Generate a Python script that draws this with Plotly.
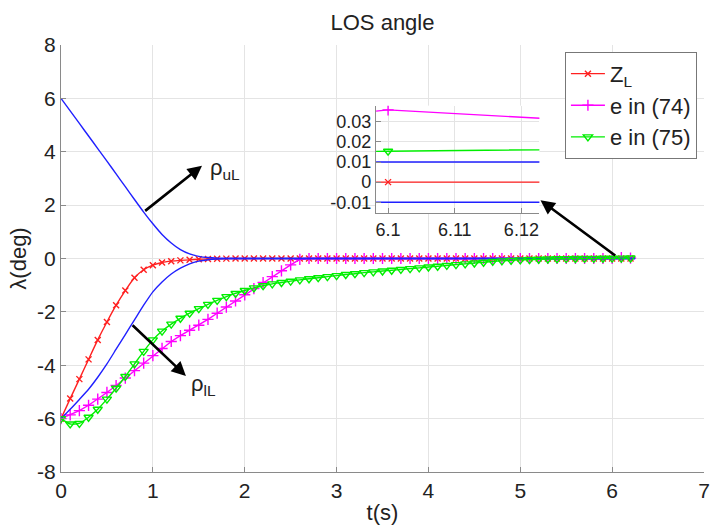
import numpy as np
import plotly.graph_objects as go

# sample times (s) of the marked series
t = np.round(np.arange(0, 6.2001, 0.1), 1).tolist()

z_l = [-6.0, -5.25, -4.52, -3.78, -3.05, -2.38, -1.75, -1.2, -0.72, -0.42,
       -0.25, -0.15, -0.1, -0.07, -0.05, -0.03, -0.02, -0.01, -0.005, 0.0,
       0.0, 0.0, 0.0, 0.0, 0.0, 0.0, 0.0, 0.0, 0.0, 0.0,
       0.0, 0.0, 0.0, 0.0, 0.0, 0.0, 0.0, 0.0, 0.0, 0.0,
       0.0, 0.0, 0.0, 0.0, 0.0, 0.0, 0.0, 0.0, 0.0, 0.0,
       0.0, 0.0, 0.0, 0.0, 0.0, 0.0, 0.0, 0.0, 0.0, 0.0,
       0.0, 0.0, 0.0]

e74 = [-6.0, -5.86, -5.7, -5.5, -5.27, -5.02, -4.76, -4.48, -4.2, -3.92,
       -3.64, -3.37, -3.11, -2.89, -2.69, -2.5, -2.28, -2.05, -1.82, -1.59,
       -1.36, -1.13, -0.9, -0.68, -0.46, -0.24, -0.03, 0.0, 0.0, 0.0,
       0.0, 0.0, 0.0, 0.0, 0.0, 0.0, 0.0, 0.0, 0.0, 0.0,
       0.0, 0.0, 0.0, 0.0, 0.0, 0.0, 0.0, 0.0, 0.0, 0.0,
       0.0, 0.0, 0.0, 0.0, 0.0, 0.0, 0.0, 0.0, 0.0, 0.0,
       0.0, 0.036, 0.0175]

e75 = [-6.0, -6.2, -6.18, -5.95, -5.65, -5.27, -4.86, -4.42, -3.95, -3.48,
       -3.05, -2.72, -2.46, -2.24, -2.05, -1.88, -1.72, -1.57, -1.43, -1.31,
       -1.2, -1.1, -1.02, -0.95, -0.9, -0.85, -0.8, -0.76, -0.72, -0.68,
       -0.64, -0.6, -0.57, -0.53, -0.5, -0.47, -0.44, -0.41, -0.38, -0.35,
       -0.32, -0.29, -0.26, -0.23, -0.2, -0.17, -0.14, -0.11, -0.09, -0.07,
       -0.05, -0.04, -0.03, -0.02, -0.01, -0.005, 0.0, 0.003, 0.006, 0.009,
       0.012, 0.0154, 0.0187]

# performance bounds
t_rho = [0.0, 0.1, 0.2, 0.3, 0.4, 0.5, 0.6, 0.7, 0.8, 0.9, 1.0, 1.1, 1.2,
         1.3, 1.4, 1.5, 1.6, 1.7, 1.8, 6.25]
rho_u = [6.0, 5.53, 5.06, 4.59, 4.12, 3.65, 3.17, 2.69, 2.21, 1.74, 1.3, 0.9,
         0.58, 0.33, 0.17, 0.08, 0.035, 0.015, 0.01, 0.01]
rho_l = [-6.0, -5.65, -5.28, -4.9, -4.45, -3.95, -3.4, -2.85, -2.3, -1.75,
         -1.25, -0.88, -0.58, -0.36, -0.2, -0.1, -0.045, -0.02, -0.01, -0.01]

# tick positions and labels
x_ticks = [0, 1, 2, 3, 4, 5, 6, 7]
y_ticks = [-8, -6, -4, -2, 0, 2, 4, 6, 8]
y_ticktext = ["-8", "-6", "-4", "-2", "0", "2", "4", "6", "8"]
x2_ticks = [6.1, 6.11, 6.12]
x2_ticktext = ["6.1", "6.11", "6.12"]
y2_ticks = [-0.01, 0, 0.01, 0.02, 0.03]
y2_ticktext = ["-0.01", "0", "0.01", "0.02", "0.03"]

RED = "#ff2020"
MAG = "#ff00ff"
GRN = "#00ee00"
BLU = "#2020ff"
GRID = "#e4e4e4"
AXC = "#8a8a8a"
TXT = "#222222"
FONT = "Liberation Sans, Arial, sans-serif"

fig = go.Figure()


def add_all(xa, ya, main):
    shape = "spline" if main else "linear"
    fig.add_trace(go.Scatter(x=t, y=z_l, mode="lines+markers", xaxis=xa, yaxis=ya,
                             name="Z<sub>L</sub>", showlegend=main, legendrank=1,
                             line=dict(color=RED, width=1.4, shape=shape, smoothing=0.6),
                             marker=dict(symbol="x-thin", size=6,
                                         line=dict(color=RED, width=1.4))))
    fig.add_trace(go.Scatter(x=t, y=e74, mode="lines+markers", xaxis=xa, yaxis=ya,
                             name="e in (74)", showlegend=main, legendrank=2,
                             line=dict(color=MAG, width=1.4),
                             marker=dict(symbol="cross-thin", size=8,
                                         line=dict(color=MAG, width=1.4))))
    fig.add_trace(go.Scatter(x=t_rho, y=rho_u, mode="lines", xaxis=xa, yaxis=ya,
                             line=dict(color=BLU, width=1.4, shape=shape, smoothing=0.6),
                             showlegend=False, hoverinfo="skip"))
    fig.add_trace(go.Scatter(x=t_rho, y=rho_l, mode="lines", xaxis=xa, yaxis=ya,
                             line=dict(color=BLU, width=1.4, shape=shape, smoothing=0.6),
                             showlegend=False, hoverinfo="skip"))
    fig.add_trace(go.Scatter(x=t, y=e75, mode="lines+markers", xaxis=xa, yaxis=ya,
                             name="e in (75)", showlegend=main, legendrank=3,
                             line=dict(color=GRN, width=1.4, shape=shape, smoothing=0.6),
                             marker=dict(symbol="triangle-down-open", size=8,
                                         line=dict(color=GRN, width=1.4))))


add_all("x", "y", True)
add_all("x2", "y2", False)


def axis_style(size):
    return dict(showline=True, linecolor=AXC, linewidth=1.3, ticks="inside",
                ticklen=5, tickcolor=AXC, showgrid=True, gridcolor=GRID,
                gridwidth=1, zeroline=False, mirror=False,
                tickfont=dict(family=FONT, size=size, color=TXT))


fig.update_layout(
    width=716, height=527,
    margin=dict(l=61, r=6, t=45, b=53),
    paper_bgcolor="white", plot_bgcolor="white",
    font=dict(family=FONT, color=TXT),
    title=dict(text="LOS angle", x=0.5, xref="paper", y=1 - 22 / 527,
               yref="container", yanchor="middle",
               font=dict(family=FONT, size=22, color=TXT)),
    xaxis=dict(range=[0, 7], tickvals=x_ticks, **axis_style(21),
               title=dict(text="t(s)", standoff=3,
                          font=dict(family=FONT, size=22, color=TXT))),
    yaxis=dict(range=[-8, 8], tickvals=y_ticks, ticktext=y_ticktext,
               **axis_style(21),
               title=dict(text="λ(deg)", standoff=4,
                          font=dict(family=FONT, size=22, color=TXT))),
    xaxis2=dict(domain=[0.490, 0.744], anchor="y2", range=[6.0982, 6.1227],
                tickvals=x2_ticks, ticktext=x2_ticktext, **axis_style(18)),
    yaxis2=dict(domain=[0.606, 0.858], anchor="x2", range=[-0.0155, 0.0381],
                tickvals=y2_ticks, ticktext=y2_ticktext, **axis_style(18)),
    legend=dict(x=0.989, y=0.984, xanchor="right", yanchor="top",
                bgcolor="white", bordercolor="#777777", borderwidth=1,
                font=dict(family=FONT, size=22, color=TXT),
                itemwidth=34, tracegroupgap=0),
)

arrows = [
    # (head t, head λ, tail t, tail λ)
    (1.535, 3.48, 0.9, 1.74),
    (1.36, -4.4, 0.763, -2.45),
    (5.22, 2.18, 6.05, 0.07),
]
for hx, hy, tx, ty in arrows:
    fig.add_annotation(x=hx, y=hy, ax=tx, ay=ty, xref="x", yref="y",
                       axref="x", ayref="y", text="", showarrow=True,
                       arrowhead=2, arrowsize=1.1, arrowwidth=2.6,
                       arrowcolor="black")

fig.add_annotation(x=1.6, y=3.35, xref="x", yref="y", text="ρ<sub>uL</sub>",
                   showarrow=False, xanchor="left", yanchor="middle",
                   font=dict(family=FONT, size=22, color=TXT))
fig.add_annotation(x=1.39, y=-4.75, xref="x", yref="y", text="ρ<sub>lL</sub>",
                   showarrow=False, xanchor="left", yanchor="middle",
                   font=dict(family=FONT, size=22, color=TXT))

fig.write_html("out.html")
